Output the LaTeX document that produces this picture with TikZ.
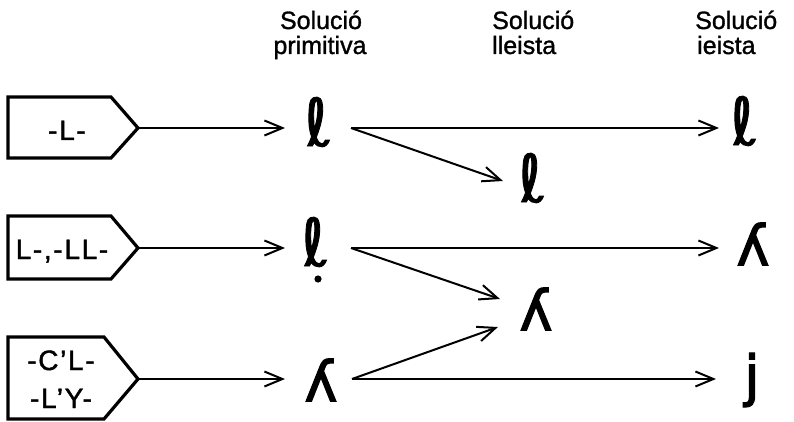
\documentclass[tikz,border=0pt]{standalone}
\usepackage{fontspec}
\setmainfont[FakeBold=1.2]{Liberation Sans}
\newfontfamily\symf[FakeBold=2.2]{DejaVu Sans}
\newfontfamily\ellf[FakeBold=1.3,FakeSlant=-0.22]{DejaVu Sans}
\newfontfamily\boxf[FakeBold=1.5,LetterSpace=6]{Liberation Sans}
\usetikzlibrary{arrows.meta}
\begin{document}
\begin{tikzpicture}[x=1pt,y=-1pt,
  arr/.style={line width=2pt, -{Straight Barb[length=18pt,width=15pt,line width=2pt]}},
  boxline/.style={line width=3.2pt, line join=miter},
  sym/.style={inner sep=0pt, font=\symf\fontsize{56}{56}\selectfont},
  ell/.style={inner sep=0pt, font=\ellf\fontsize{66}{66}\selectfont},
  head/.style={inner sep=0pt, font=\fontsize{25}{28}\selectfont},
  boxtxt/.style={inner sep=0pt, font=\boxf\fontsize{28}{30}\selectfont}]
\useasboundingbox (0,0) rectangle (794,422);

% headers
\node[head,anchor=base] (h1a) at (321,29) {Solució};
\node[head,anchor=base] (h1b) at (320,54) {primitiva};
\node[head,anchor=base west] (h2a) at (492,29) {Solució};
\node[head,anchor=base west] (h2b) at (492,54) {lleista};
\node[head,anchor=base west] (h3a) at (695,29) {Solució};
\node[head,anchor=base west] (h3b) at (697,54) {ieista};

% boxes
\draw[boxline] (8,97) -- (111,97) -- (138,128) -- (111,158) -- (8,158) -- cycle;
\coordinate (b1) at (138,128);
\node[boxtxt,anchor=base] (t1) at (67,140) {-L-};
\draw[boxline] (8,216) -- (111,216) -- (138,248) -- (111,279) -- (8,279) -- cycle;
\coordinate (b2) at (138,248);
\node[boxtxt,anchor=base] (t2) at (62,259) {L-,-LL-};
\draw[boxline] (8,337) -- (104,337) -- (138,379) -- (104,419) -- (8,419) -- cycle;
\coordinate (b3) at (138,379);
\node[boxtxt,anchor=base] (t3a) at (61,370) {-C’L-};
\node[boxtxt,anchor=base] (t3b) at (61,408) {-L’Y-};

% symbols
\node[ell] (p1) at (322,122) {ℓ};
\node[ell] (p2) at (319,242) {ℓ};
\fill (318,279) circle (3.6pt);
\node[sym] (p3) at (321,380) {ʎ};
\node[ell] (m1) at (536,178) {ℓ};
\node[sym] (m2) at (536,309) {ʎ};
\node[ell] (r1) at (748,121) {ℓ};
\node[sym] (r2) at (753,244) {ʎ};
\node[sym] (r3) at (752,380) {j};

% connector end points
\coordinate (p1i) at (285,128); \coordinate (p1o) at (351,128);
\coordinate (p2i) at (285,248); \coordinate (p2o) at (351,248);
\coordinate (p3i) at (285,379); \coordinate (p3o) at (352,379);
\coordinate (m1i) at (503,181);
\coordinate (m2i) at (500,299);
\coordinate (m2j) at (498,327);
\coordinate (r1i) at (719,128);
\coordinate (r2i) at (719,248);
\coordinate (r3i) at (716,379);

% connectors
\draw[arr] (b1) -- (p1i);
\draw[arr] (b2) -- (p2i);
\draw[arr] (b3) -- (p3i);
\draw[arr] (p1o) -- (r1i);
\draw[arr] (p1o) -- (m1i);
\draw[arr] (p2o) -- (r2i);
\draw[arr] (p2o) -- (m2i);
\draw[arr] (p3o) -- (m2j);
\draw[arr] (p3o) -- (r3i);
\end{tikzpicture}
\end{document}
